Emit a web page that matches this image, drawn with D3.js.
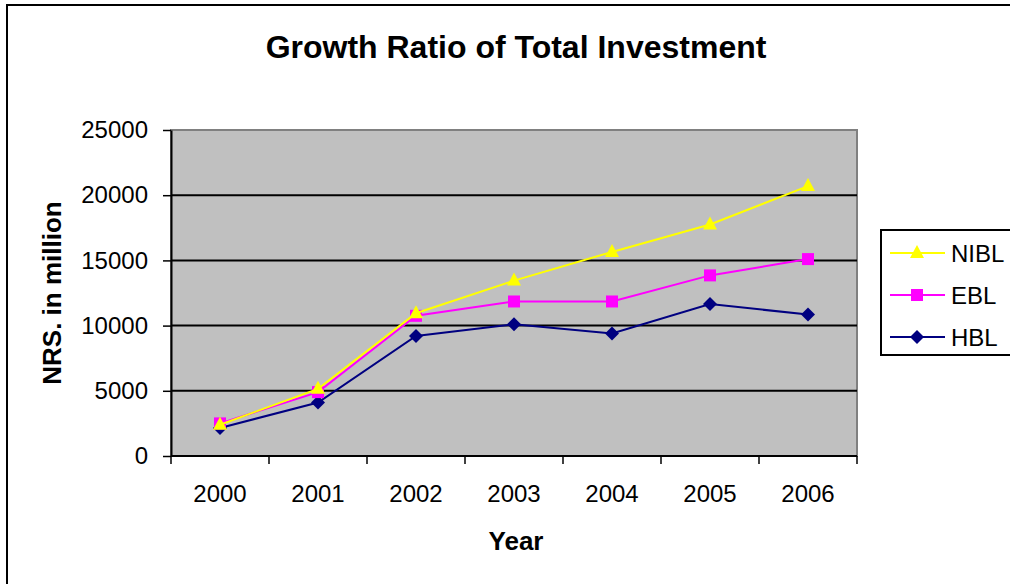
<!DOCTYPE html>
<html>
<head>
<meta charset="utf-8">
<script src="https://cdn.jsdelivr.net/npm/d3@7"></script>
<style>
  html, body { margin: 0; padding: 0; background: #fff; }
  svg { display: block; font-family: "Liberation Sans", Arial, sans-serif; }
</style>
</head>
<body>
<svg id="chart" width="1010" height="584"></svg>
<script>
// Categories and series (NRS. in million)
const years = ["2000", "2001", "2002", "2003", "2004", "2005", "2006"];
const nibl = [2400, 5150, 10950, 13450, 15650, 17750, 20700];
const ebl  = [2500, 4900, 10750, 11850, 11850, 13850, 15100];
const hbl  = [2150, 4100, 9200, 10100, 9400, 11650, 10850];
const yTicks = [0, 5000, 10000, 15000, 20000, 25000];

const series = [
  { name: "NIBL", values: nibl, color: "#FFFF00", marker: "triangle" },
  { name: "EBL",  values: ebl,  color: "#FF00FF", marker: "square" },
  { name: "HBL",  values: hbl,  color: "#000080", marker: "diamond" }
];

const FONT = "'Liberation Sans', Arial, sans-serif";
const svg = d3.select("#chart");
const plot = { left: 171, top: 130, right: 857, bottom: 456 };

// Outer chart frame (right and bottom edges fall outside the view)
svg.append("rect")
  .attr("x", 7).attr("y", 5).attr("width", 1020).attr("height", 600)
  .attr("fill", "#fff").attr("stroke", "#000").attr("stroke-width", 2);

const x = d3.scaleBand().domain(years).range([plot.left, plot.right]);
const y = d3.scaleLinear().domain([0, 25000]).range([plot.bottom, plot.top]);

// Plot area background
svg.append("rect")
  .attr("x", plot.left).attr("y", plot.top)
  .attr("width", plot.right - plot.left).attr("height", plot.bottom - plot.top)
  .attr("fill", "#C0C0C0").attr("stroke", "#808080").attr("stroke-width", 2);

// Horizontal gridlines
svg.append("g").selectAll("line")
  .data(yTicks.filter(d => d > 0 && d < 25000))
  .join("line")
  .attr("x1", plot.left).attr("x2", plot.right)
  .attr("y1", d => y(d)).attr("y2", d => y(d))
  .attr("stroke", "#000").attr("stroke-width", 2);

// Y axis
const yAxis = svg.append("g")
  .attr("transform", `translate(${plot.left},0)`)
  .call(d3.axisLeft(y).tickValues(yTicks).tickFormat(d3.format("d"))
    .tickSize(8).tickSizeOuter(0).tickPadding(15));
yAxis.select(".domain").attr("stroke", "#000").attr("stroke-width", 2);
yAxis.selectAll(".tick line").attr("stroke", "#000").attr("stroke-width", 1.5);
yAxis.selectAll("text")
  .attr("font-size", 24).attr("fill", "#000").attr("font-family", FONT);

// X axis with ticks on category boundaries
const xAxis = svg.append("g")
  .attr("transform", `translate(0,${plot.bottom})`)
  .call(d3.axisBottom(x).tickSize(0).tickPadding(0));
xAxis.select(".domain").remove();
xAxis.append("line")
  .attr("x1", plot.left).attr("x2", plot.right)
  .attr("stroke", "#000").attr("stroke-width", 2);
xAxis.selectAll(".tick text")
  .attr("y", 46).attr("dy", 0)
  .attr("font-size", 24).attr("fill", "#000").attr("font-family", FONT);
const bounds = years.map(d => x(d)).concat([x(years[years.length - 1]) + x.bandwidth()]);
xAxis.selectAll(".bound")
  .data(bounds)
  .join("line")
  .attr("class", "bound")
  .attr("x1", d => d).attr("x2", d => d)
  .attr("y1", 0).attr("y2", 8)
  .attr("stroke", "#000").attr("stroke-width", 1.5);

// Titles
svg.append("text")
  .attr("x", 516).attr("y", 58)
  .attr("text-anchor", "middle")
  .attr("font-size", 32).attr("font-weight", "bold")
  .text("Growth Ratio of Total Investment");

svg.append("text")
  .attr("x", 516).attr("y", 550)
  .attr("text-anchor", "middle")
  .attr("font-size", 26).attr("font-weight", "bold")
  .text("Year");

svg.append("text")
  .attr("transform", `translate(61,${(plot.top + plot.bottom) / 2}) rotate(-90)`)
  .attr("text-anchor", "middle")
  .attr("font-size", 26).attr("font-weight", "bold")
  .text("NRS. in million");

// Marker shapes
function markerPath(type) {
  if (type === "triangle") return "M0,-8L7,5L-7,5Z";
  if (type === "square") return "M-6,-6H6V6H-6Z";
  return "M0,-7L7,0L0,7L-7,0Z";
}

const cx = i => x(years[i]) + x.bandwidth() / 2;
const line = d3.line().x((d, i) => cx(i)).y(d => y(d));

// Draw series bottom-up so NIBL sits on top
[...series].reverse().forEach(s => {
  const g = svg.append("g");
  g.append("path")
    .attr("d", line(s.values))
    .attr("fill", "none").attr("stroke", s.color).attr("stroke-width", 2);
  g.selectAll("path.mk")
    .data(s.values)
    .join("path")
    .attr("class", "mk")
    .attr("transform", (d, i) => `translate(${cx(i)},${y(d)})`)
    .attr("d", markerPath(s.marker))
    .attr("fill", s.color);
});

// Legend
const legend = svg.append("g");
legend.append("rect")
  .attr("x", 881).attr("y", 230).attr("width", 150).attr("height", 125)
  .attr("fill", "#fff").attr("stroke", "#000").attr("stroke-width", 2);
const rowY = [253, 295, 337];
series.forEach((s, i) => {
  const r = legend.append("g").attr("transform", `translate(0,${rowY[i]})`);
  r.append("line").attr("x1", 890).attr("x2", 945)
    .attr("stroke", s.color).attr("stroke-width", 2);
  r.append("path")
    .attr("transform", "translate(917,0)")
    .attr("d", markerPath(s.marker)).attr("fill", s.color);
  r.append("text")
    .attr("x", 951).attr("y", 9)
    .attr("font-size", 24).attr("fill", "#000").attr("font-family", FONT)
    .text(s.name);
});
</script>
</body>
</html>
